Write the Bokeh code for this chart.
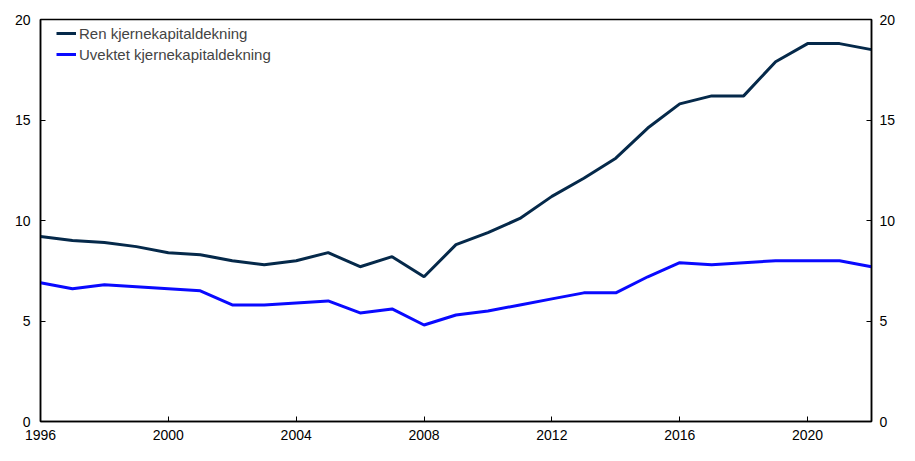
from bokeh.plotting import figure
from bokeh.models import Range1d, LinearAxis, FixedTicker, Legend, LegendItem
from bokeh.embed import file_html
from bokeh.resources import INLINE

years = list(range(1996, 2023))
ren = [9.2, 9.0, 8.9, 8.7, 8.4, 8.3, 8.0, 7.8, 8.0, 8.4, 7.7, 8.2, 7.2, 8.8, 9.4,
       10.1, 11.2, 12.1, 13.1, 14.6, 15.8, 16.2, 16.2, 17.9, 18.8, 18.8, 18.5]
uvektet = [6.9, 6.6, 6.8, 6.7, 6.6, 6.5, 5.8, 5.8, 5.9, 6.0, 5.4, 5.6, 4.8, 5.3, 5.5,
           5.8, 6.1, 6.4, 6.4, 7.2, 7.9, 7.8, 7.9, 8.0, 8.0, 8.0, 7.7]
x_ticks = [1996, 2000, 2004, 2008, 2012, 2016, 2020]
y_ticks = [0, 5, 10, 15, 20]
names = ["Ren kjernekapitaldekning", "Uvektet kjernekapitaldekning"]
colors = ["#05294a", "#0a0aff"]

FONT = "Liberation Sans"

W, H = 899, 445
BL, BR, BT, BB = 40, 28, 19, 24

p = figure(width=W, height=H, output_backend="svg", toolbar_location=None,
           x_range=Range1d(1996, 2022), y_range=Range1d(0, 20),
           min_border_left=BL, min_border_right=BR, min_border_top=BT, min_border_bottom=BB,
           x_axis_location=None, y_axis_location=None)
p.xgrid.visible = False
p.ygrid.visible = False
p.outline_line_color = "black"
p.outline_line_width = 1.5
p.background_fill_color = "white"
p.border_fill_color = "white"

def style(ax):
    ax.axis_line_color = "black"
    ax.axis_line_width = 1.5
    ax.major_tick_in = 5
    ax.major_tick_out = 0
    ax.minor_tick_in = 0
    ax.minor_tick_out = 0
    ax.major_label_text_font = FONT
    ax.major_label_text_font_size = "14px"
    ax.major_label_text_color = "black"
    ax.major_tick_line_color = "black"

xb = LinearAxis(ticker=FixedTicker(ticks=x_ticks))
style(xb)
xb.major_label_standoff = 8
p.add_layout(xb, "below")

yl = LinearAxis(ticker=FixedTicker(ticks=y_ticks))
style(yl)
yl.major_label_standoff = 10
p.add_layout(yl, "left")

yr = LinearAxis(ticker=FixedTicker(ticks=y_ticks))
style(yr)
yr.major_label_standoff = 8
p.add_layout(yr, "right")

r1 = p.line(years, ren, line_color=colors[0], line_width=3)
r2 = p.line(years, uvektet, line_color=colors[1], line_width=3)

frame_h = H - BT - BB
leg_h = 2 * 18 + 3
legend = Legend(items=[LegendItem(label=names[0], renderers=[r1]),
                       LegendItem(label=names[1], renderers=[r2])],
                location=(16, frame_h - 5 - leg_h))
legend.border_line_alpha = 0
legend.background_fill_alpha = 0
legend.label_text_font = FONT
legend.label_text_font_size = "15px"
legend.glyph_width = 20
legend.glyph_height = 18
legend.label_height = 18
legend.label_standoff = 3
legend.spacing = 3
legend.margin = 0
legend.padding = 0
p.add_layout(legend)

open("out.html", "w").write(file_html(p, INLINE))
